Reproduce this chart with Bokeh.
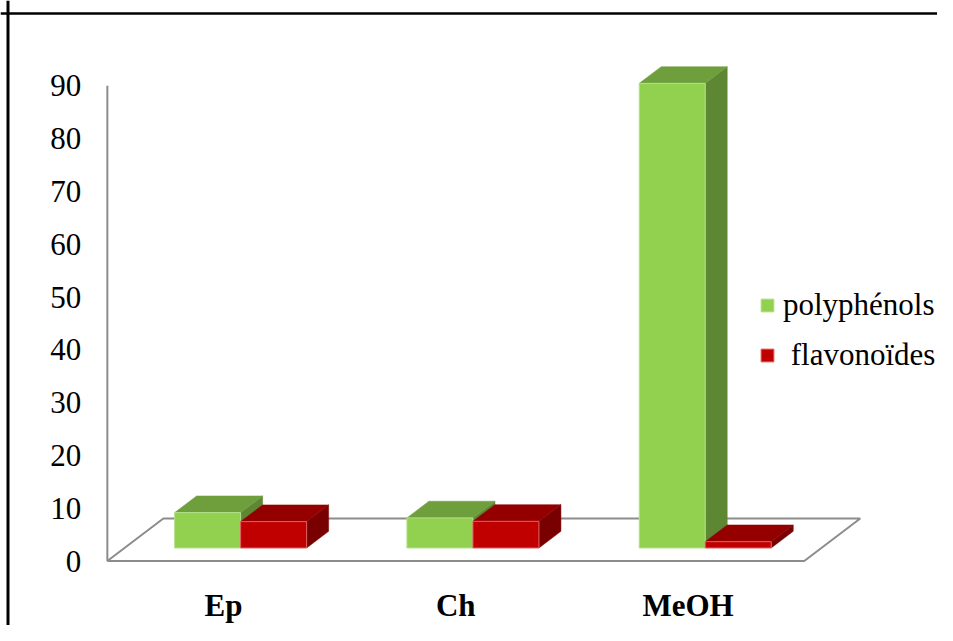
import numpy as np
from bokeh.plotting import figure
from bokeh.models import ColumnDataSource, Range1d, Span, Legend, LegendItem
from bokeh.core.properties import value
from bokeh.embed import file_html
from bokeh.resources import INLINE

# ---------------- data ----------------
categories = ["Ep", "Ch", "MeOH"]
polyphenols = [6.7, 5.7, 88.0]
flavonoides = [5.0, 5.05, 1.2]
series_labels = ["polyphénols", " flavonoïdes"]
y_ticks = [0, 10, 20, 30, 40, 50, 60, 70, 80, 90]

# ---------------- styling / geometry ----------------
W, H = 937, 625
CX, CY = 1, -2          # observed screen position of the canvas origin
PXX = 232.3             # px per category unit
PXY = 5.28              # px per value unit
X0 = 224 - CX           # canvas px of category 0 (front plane)
Y0 = 558.5 - CY         # canvas px of value 0 (front plane)
FLOOR_DX = 56 / PXX     # full floor depth offset (data units)
FLOOR_DY = 42.5 / PXY
F0 = 13 / 42.5          # bar front depth fraction
F1 = (13 + 16.7) / 42.5 # bar back depth fraction
BW = 66 / PXX           # bar width

FONT = "Liberation Serif"
GRID = "#8c8c8c"
green = dict(front="#92d050", top="#6f9f3c", side="#5e8734", edge="#b4e08c")
red = dict(front="#c00000", top="#940000", side="#780000", edge="#e06060")

p = figure(width=W, height=H, output_backend="svg", toolbar_location=None,
           x_axis_location=None, y_axis_location=None, min_border=0,
           x_range=Range1d(-X0 / PXX, (W - X0) / PXX),
           y_range=Range1d(-(H - Y0) / PXY, Y0 / PXY))
p.xgrid.visible = False
p.ygrid.visible = False
p.outline_line_color = None
p.background_fill_color = "white"
p.border_fill_color = "white"

# border of the chart area (left and top)
p.add_layout(Span(location=(8.5 - CX - X0) / PXX, dimension="height", line_color="black", line_width=3))
p.add_layout(Span(location=(Y0 - (11 - CY)) / PXY, dimension="width", line_color="black", line_width=2.5))

n = len(categories)
xL, xR = -0.5, n - 0.5
# floor
p.patch([xL, xR, xR + FLOOR_DX, xL + FLOOR_DX], [0, 0, FLOOR_DY, FLOOR_DY],
        fill_color="white", line_color=GRID, line_width=2)
# vertical axis line
p.segment(x0=[xL], y0=[0], x1=[xL], y1=[max(y_ticks)], line_color=GRID, line_width=2)

ox0, oy0 = F0 * FLOOR_DX, F0 * FLOOR_DY
ox1, oy1 = F1 * FLOOR_DX, F1 * FLOOR_DY


def bars(vals, offset, col):
    xs = np.arange(n) + offset
    xl, xr = xs + ox0, xs + BW + ox0
    v = np.array(vals, dtype=float)
    side = ColumnDataSource(dict(
        xs=[[r, r + ox1 - ox0, r + ox1 - ox0, r] for r in xr],
        ys=[[oy0, oy1, oy1 + h, oy0 + h] for h in v]))
    top = ColumnDataSource(dict(
        xs=[[l, r, r + ox1 - ox0, l + ox1 - ox0] for l, r in zip(xl, xr)],
        ys=[[oy0 + h, oy0 + h, oy1 + h, oy1 + h] for h in v]))
    p.patches("xs", "ys", source=side, fill_color=col["side"], line_color=col["side"], line_width=0.5)
    p.patches("xs", "ys", source=top, fill_color=col["top"], line_color=col["top"], line_width=0.5)
    front = p.quad(left=xl, right=xr, bottom=oy0, top=oy0 + v,
                   fill_color=col["front"], line_color=col["edge"], line_width=1)
    return front


g_front = bars(polyphenols, -BW, green)
r_front = bars(flavonoides, 0.0, red)

# y tick labels
p.text(x=[xL - 26 / PXX] * len(y_ticks), y=y_ticks, text=[str(t) for t in y_ticks],
       text_font=value(FONT), text_font_size="31px", text_align="right",
       text_baseline="middle", text_color="black")

# category labels
p.text(x=list(range(n)), y=[-44.5 / PXY] * n, text=categories,
       text_font=value(FONT), text_font_size="31px", text_font_style="bold",
       text_align="center", text_baseline="middle", text_color="black")

legend = Legend(items=[LegendItem(label=series_labels[0], renderers=[g_front]),
                       LegendItem(label=series_labels[1], renderers=[r_front])],
                location=(760 - CX, int(round(H - (373.5 - CY)))), padding=0, margin=0, spacing=10,
                glyph_width=16, glyph_height=16, label_height=40, label_standoff=8,
                label_text_font=FONT, label_text_font_size="31px", label_text_color="black",
                border_line_color=None, background_fill_alpha=0)
p.add_layout(legend, "center")

open("out.html", "w").write(file_html(p, INLINE))
